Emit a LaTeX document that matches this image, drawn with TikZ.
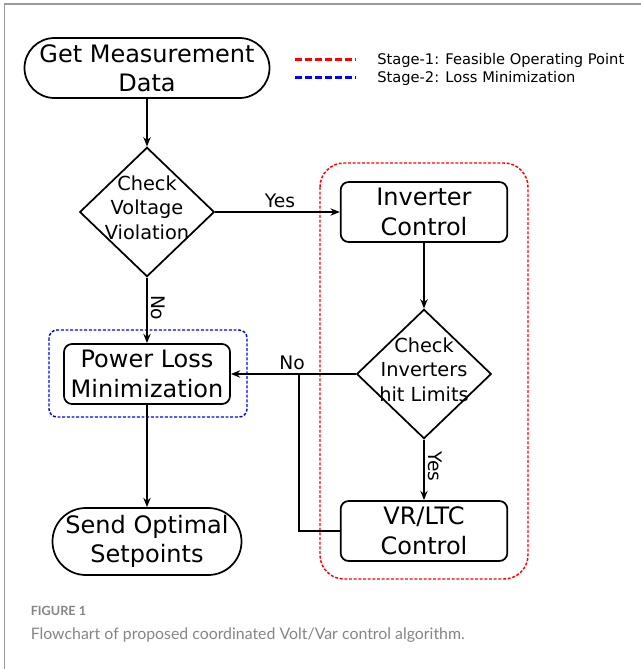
\documentclass[tikz,border=0pt]{standalone}
\usepackage{fontspec}
\setmainfont{DejaVu Sans}
\newfontfamily\capfont{Lato}
\usetikzlibrary{shapes.geometric,arrows.meta}

\definecolor{framegray}{HTML}{9A9A9A}
\definecolor{capgray}{HTML}{858585}

\begin{document}
\begin{tikzpicture}
  [x=0.75pt,y=-0.75pt,
   term node/.style={draw,line width=1.3pt,align=center,inner sep=0pt,
     font=\fontsize{18}{22}\selectfont},
   box node/.style={draw,line width=1.3pt,rounded corners=6pt,align=center,
     inner sep=0pt,minimum width=125pt,minimum height=45pt,
     font=\fontsize{18}{22.5}\selectfont},
   test text/.style={align=center,inner sep=0pt,yshift=3.5pt,
     font=\fontsize{14.5}{18.4}\selectfont},
   test node/.style={diamond,draw,line width=1.3pt,inner sep=0pt,
     minimum width=101pt,minimum height=97pt,
     label={[test text]center:#1}},
   flow/.style={line width=1.9pt,-{Stealth[length=7pt,width=5.5pt]}},
   flow line/.style={line width=1.9pt},
   answer/.style={inner sep=2pt,font=\fontsize{14}{16}\selectfont},
   stage one/.style={red,line width=1.1pt,dash pattern=on 2.2pt off 1.3pt},
   stage two/.style={blue,line width=1.1pt,dash pattern=on 2.2pt off 1.3pt}]

  \useasboundingbox (0,0) rectangle (641,669);
  \draw[framegray,line width=1.2pt] (4.7,669) -- (4.7,4) -- (641,4);

  % flowchart
  \node[term node,minimum width=183.75pt,minimum height=45pt,rounded corners=22.5pt]
    (start) at (147,68) {Get Measurement\\Data};
  \node[test node={Check\\Voltage\\Violation}] (chk1) at (147,212) {};
  \node[box node] (inv) at (424,212) {Inverter\\Control};
  \node[test node={Check\\Inverters\\hit Limits}] (chk2) at (424,374) {};
  \node[box node] (vr) at (424,531) {VR/LTC\\Control};
  \node[box node,minimum width=124.5pt] (loss) at (147,374) {Power Loss\\Minimization};
  \node[term node,minimum width=141.75pt,minimum height=50.25pt,rounded corners=25pt]
    (send) at (147,541.5) {Send Optimal\\Setpoints};
  \coordinate (j) at (299,374);

  % stage boxes
  \draw[stage one,rounded corners=18pt] (320,163) rectangle (528,579);
  \draw[stage two,rounded corners=6pt] (49,330) rectangle (247,417);

  \path (start) [flow] edge (chk1);
  \path (chk1) [flow] edge node[answer,above,pos=0.52] {Yes} (inv);
  \path (chk1) [flow] edge node[answer,pos=0.46,anchor=south,rotate=-90] {No} (loss);
  \path (inv) [flow] edge (chk2);
  \path (chk2) [flow] edge node[answer,pos=0.44,anchor=south,rotate=-90] {Yes} (vr);
  \path (chk2) [flow] edge node[answer,above,pos=0.51] {No} (loss);
  \draw[flow line] (vr.west) -| (j);
  \path (loss) [flow] edge (send);

  % legend
  \node[anchor=base west,inner sep=0pt,font=\fontsize{11}{13}\selectfont]
    (leg1) at (377,64) {Stage-1: Feasible Operating Point};
  \node[anchor=base west,inner sep=0pt,font=\fontsize{11}{13}\selectfont]
    (leg2) at (377,82.5) {Stage-2: Loss Minimization};
  \draw[red,line width=2.2pt,dash pattern=on 5pt off 2.5pt] (295,59.3) -- (356,59.3);
  \draw[blue,line width=2.2pt,dash pattern=on 5pt off 2.5pt] (295,77.7) -- (356,77.7);

  % caption
  \node[anchor=base west,inner sep=0pt,text=capgray,font=\capfont\bfseries\fontsize{9.5}{12}\selectfont]
    (fig) at (30.5,615) {FIGURE 1};
  \node[anchor=base west,inner sep=0pt,text=capgray,font=\capfont\fontsize{11.9}{14}\selectfont]
    (cap) at (30.5,639) {Flowchart of proposed coordinated Volt/Var control algorithm.};
\end{tikzpicture}
\end{document}
